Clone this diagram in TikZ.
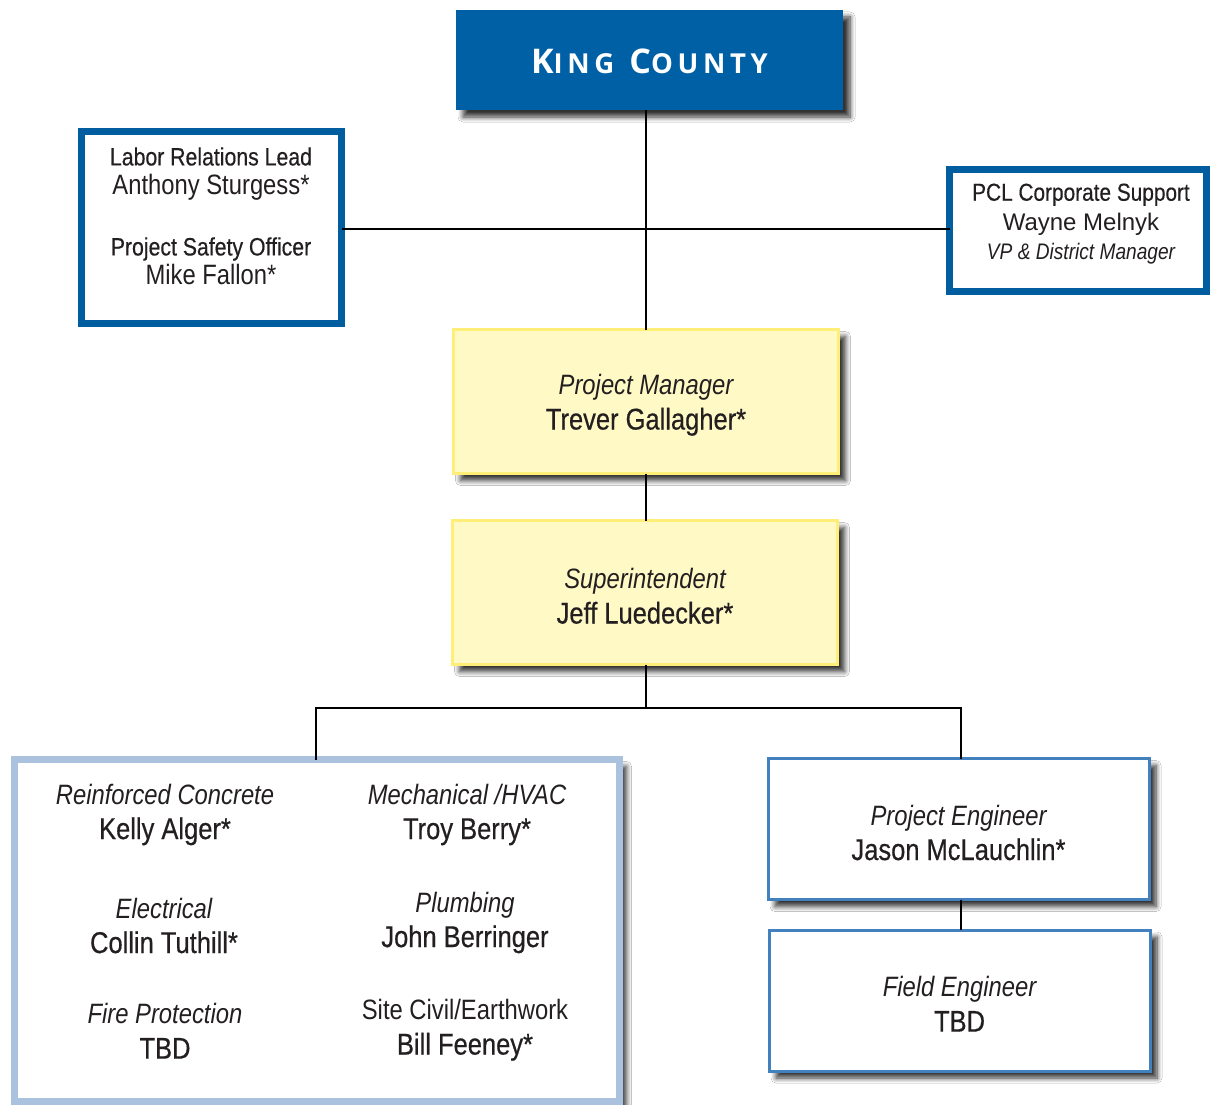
\documentclass[tikz,border=0pt]{standalone}
\usepackage{fontspec}
\setmainfont[FakeStretch=0.85]{Liberation Sans}
\newfontfamily\widefont{Liberation Sans}
\newfontfamily\kcfont[LetterSpace=17]{Open Sans}
\usetikzlibrary{shadows.blur}
\definecolor{kcblue}{RGB}{0,96,166}
\definecolor{lrblue}{RGB}{0,94,160}
\definecolor{ylfill}{RGB}{255,249,198}
\definecolor{ylline}{RGB}{255,238,120}
\definecolor{lightblue}{RGB}{170,194,222}
\definecolor{peblue}{RGB}{66,128,190}
\definecolor{txt}{RGB}{35,31,32}
\definecolor{shadowcol}{RGB}{70,72,110}
\tikzset{
  conn/.style={line width=2.8pt, black},
  shadowed/.style={blur shadow={shadow xshift=7pt, shadow yshift=-7pt, shadow blur steps=8, shadow opacity=80, shadow blur radius=5pt}},
  kcbox/.style={fill=kcblue, draw=none, inner sep=0pt, outer sep=0pt, text=white},
  thickbox/.style={fill=white, draw=lrblue, line width=7pt, inner sep=0pt, outer sep=0pt},
  ylbox/.style={fill=ylfill, draw=ylline, line width=3pt, inner sep=0pt, outer sep=0pt, minimum width=385pt, minimum height=144pt},
  grpbox/.style={fill=white, draw=lightblue, line width=7pt, inner sep=0pt, outer sep=0pt},
  pebox/.style={fill=white, draw=peblue, line width=3pt, inner sep=0pt, outer sep=0pt, minimum width=381pt, minimum height=141pt},
  label/.style={align=center, inner sep=0pt, text=txt, font=\fontsize{28}{35}\selectfont},
}
\newcommand{\ttl}[1]{{\fontsize{28}{35}\selectfont\itshape #1}}
\newcommand{\nm}[1]{{\fontsize{30}{35}\selectfont\addfontfeature{FakeBold=0.5}#1}}
\begin{document}
\begin{tikzpicture}[x=1pt,y=-1pt]
\useasboundingbox (0,0) rectangle (1210,1105);
\fill[white] (0,0) rectangle (1210,1105);
% boxes
\node[kcbox, shadowed, minimum width=387pt, minimum height=100pt, text depth=0pt] (kc) at (649.5,60)
  {\raisebox{-3pt}{\kcfont\bfseries{\fontsize{34}{34}\selectfont K}{\fontsize{27.5}{34}\selectfont ING}\hspace{15pt}{\fontsize{34}{34}\selectfont C}{\fontsize{27.5}{34}\selectfont OUNTY}}};
\node[thickbox, minimum width=260pt, minimum height=192pt] (lr) at (211.5,227.5) {};
\node[label, font=\fontsize{25}{29}\selectfont] (lrtext) at (211,216)
  {{\addfontfeature{FakeBold=0.4}Labor Relations Lead}\\ {\fontsize{28}{29}\selectfont Anthony Sturgess*}\\[32pt]
   {\addfontfeature{FakeBold=0.4}Project Safety Officer}\\ {\fontsize{28}{29}\selectfont Mike Fallon*}};
\node[thickbox, minimum width=257pt, minimum height=122pt] (pcl) at (1078,230.5) {};
\node[label, font=\fontsize{24.5}{29.5}\selectfont] (pcltext) at (1081,224)
  {{\addfontfeature{FakeBold=0.4}PCL Corporate Support}\\ {\widefont\fontsize{24}{29.5}\selectfont Wayne Melnyk}\\ {\fontsize{22.5}{29.5}\selectfont\itshape VP \& District Manager}};
\node[ylbox, shadowed] (pm) at (646,401.5) {};
\node[label] (pmtext) at (646,405) {\ttl{Project Manager}\\ \nm{Trever Gallagher*}};
\node[ylbox, shadowed] (sup) at (645,592.5) {};
\node[label] (suptext) at (645,596) {\ttl{Superintendent}\\ \nm{Jeff Luedecker*}};
\node[grpbox, shadowed, minimum width=605pt, minimum height=342pt] (grp) at (317,930.5) {};
\node[label] (rc) at (165,814.5) {\ttl{Reinforced Concrete}\\ \nm{Kelly Alger*}};
\node[label] (el) at (164,925.5) {\ttl{Electrical}\\ \nm{Collin Tuthill*}};
\node[label] (fp) at (165,1031) {\ttl{Fire Protection}\\ \nm{TBD}};
\node[label] (mh) at (467,814.5) {\ttl{Mechanical /HVAC}\\ \nm{Troy Berry*}};
\node[label] (pl) at (465,922.5) {\ttl{Plumbing}\\ \nm{John Berringer}};
\node[label] (sc) at (465,1030) {{\fontsize{28}{35}\selectfont Site Civil/Earthwork}\\ \nm{Bill Feeney*}};
\node[pebox, shadowed] (pe) at (958.5,829) {};
\node[label] (petext) at (958.5,832.5) {\ttl{Project Engineer}\\ \nm{Jason McLauchlin*}};
\node[pebox, shadowed] (fe) at (959.5,1000.5) {};
\node[label] (fetext) at (959.5,1004) {\ttl{Field Engineer}\\ \nm{TBD}};
% connectors
\coordinate (sp) at (646,229);
\coordinate (j2) at (646,708);
\coordinate (bl) at (316,708);
\coordinate (br) at (961,708);
\draw[conn] (kc.south -| sp) -- (pm.north -| sp);
\draw[conn] (lr.east |- sp) -- (pcl.west |- sp);
\draw[conn] (pm.south -| sp) -- (sup.north -| sp);
\draw[conn] (sup.south -| sp) -- (j2);
\draw[conn] (grp.north -| bl) -- (bl) -- (br) -- (pe.north -| br);
\draw[conn] (pe.south -| br) -- (fe.north -| br);
\end{tikzpicture}
\end{document}
